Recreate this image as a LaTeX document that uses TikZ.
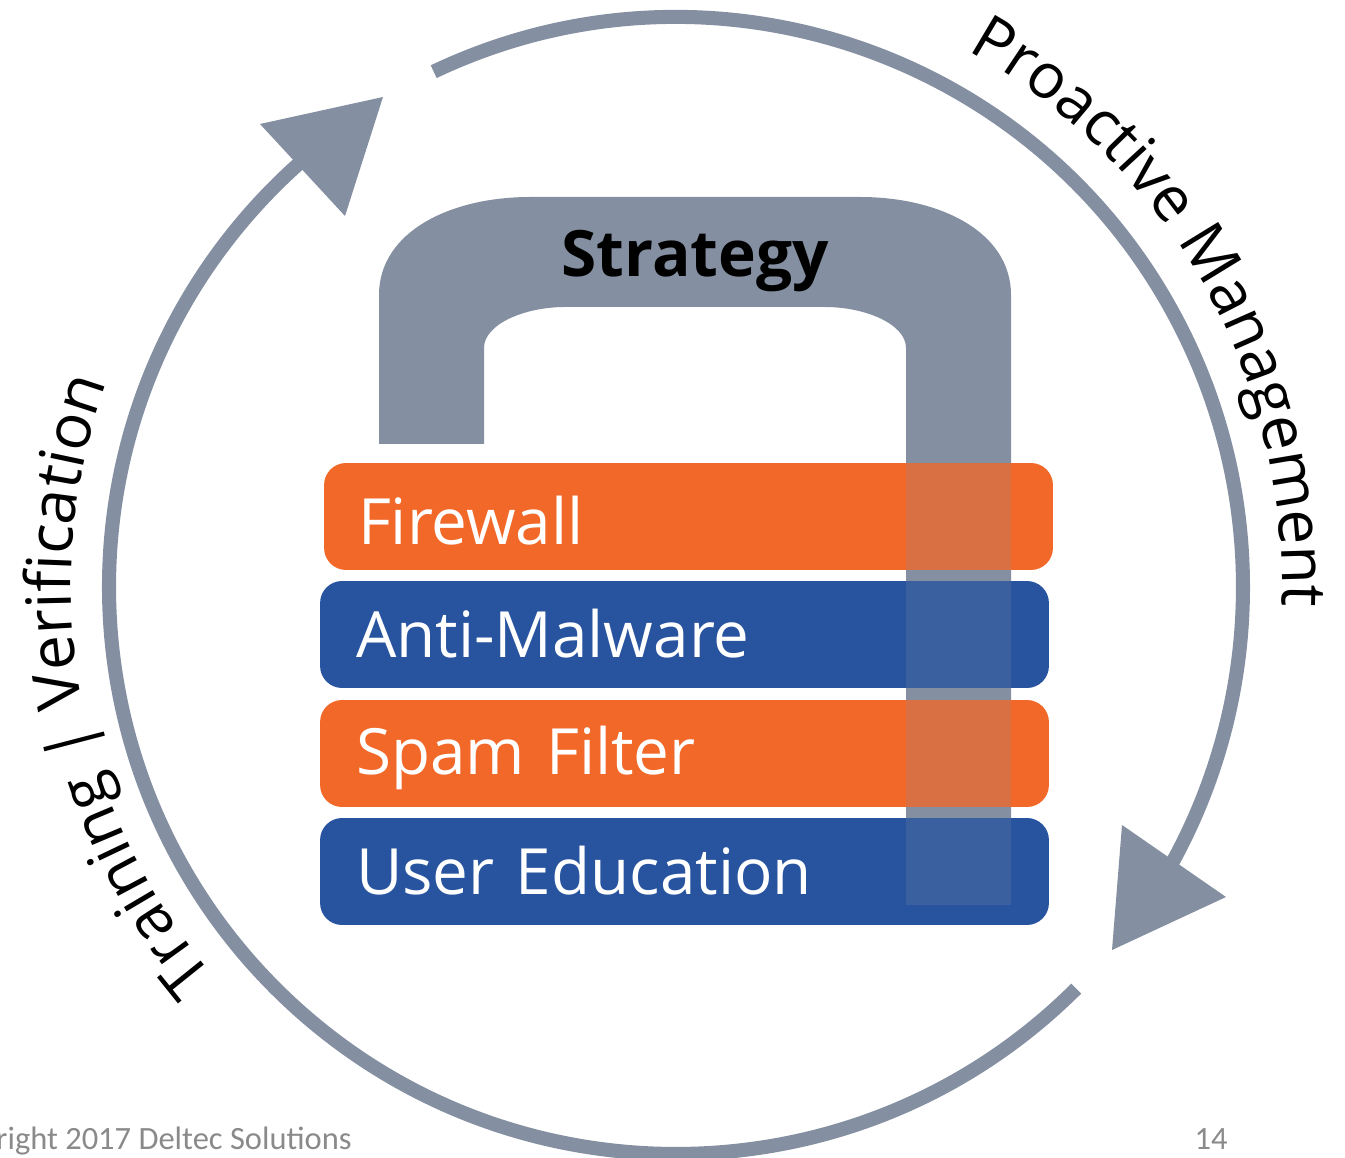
\documentclass[tikz,border=0pt]{standalone}
\usepackage{fontspec}
\setmainfont{Open Sans}
\newfontfamily\footfont{Carlito}
\usetikzlibrary{positioning,calc,decorations.text}
\definecolor{slate}{HTML}{848FA1}
\definecolor{lockorange}{HTML}{F26829}
\definecolor{lockblue}{HTML}{27539F}
\definecolor{footgray}{HTML}{8A8A8A}

\begin{document}
\begin{tikzpicture}[
    x=0.02cm, y=0.02cm,
    layerbox/.style={rectangle, rounded corners=0.44cm, minimum width=14.58cm, minimum height=2.14cm, inner xsep=0.72cm, inner ysep=0pt, text width=13.14cm, align=left, text=white, text height=1.1cm, text depth=0.16cm, font=\fontsize{36.3}{44}\selectfont},
    ring/.style={draw=slate, line width=8pt},
    curvedlabel/.style={decorate, decoration={text along path, text align=left, text format delimiters={[}{]}, text={[\fontsize{35.5}{40}\selectfont]#1}}},
    footnote/.style={text=footgray, inner sep=0pt, font=\footfont\fontsize{18.5}{22}\selectfont}
]
    \useasboundingbox (0,0) rectangle (1345,1157);
    \coordinate (hub) at (676,570);

    % Ring
    \draw[ring] (hub) ++(115.3:567 and 570) arc (115.3:-29:567 and 570);
    \draw[ring] (hub) ++(-45.1:567) arc (-45.1:-228.6:567);
    \fill[slate] (1122,332) -- (1226,260) -- (1112,207) -- cycle;
    \fill[slate] (260,1033) -- (383,1060) -- (345,941) -- cycle;

    % Shackle
    \fill[slate] (379,713) -- (379,862) .. controls (379,925) and (450,960) .. (530,960) -- (860,960)
        .. controls (940,960) and (1011,925) .. (1011,862) -- (1011,252) -- (906,252) -- (906,809)
        .. controls (906,833) and (865,850) .. (825,850) -- (565,850)
        .. controls (525,850) and (484,833) .. (484,809) -- (484,713) -- cycle;

    % Layers
    \node[layerbox, fill=lockorange, text height=1.3cm, text depth=0.18cm, inner xsep=0.68cm, text width=13.22cm] (firewall) at (688.5,640.5) {Firewall};
    \node[layerbox, fill=lockblue] (malware) at (684.5,522.5) {Anti-Malware};
    \node[layerbox, fill=lockorange, text depth=0.24cm] (spam) at (684.5,403.5) {Spam Filter};
    \node[layerbox, fill=lockblue] (education) at (684.5,285.5) {User Education};

    \fill[slate, opacity=0.22] (906,252) rectangle (1011,713);

    \node[font=\fontsize{36.4}{44}\selectfont\bfseries] (strategy) at (695,896) {Strategy};

    % Curved labels
    \path[curvedlabel={Proactive Management}] (672,573) ++(61:610) arc (61:-15:610);
    \path[curvedlabel={Training | Verification}] (671,570) ++(220.4:600) arc (220.4:150:600);

    % Footer
    \node[footnote, anchor=base east] (rights) at (352,8) {right 2017 Deltec Solutions};
    \node[footnote, anchor=base east] (pagenum) at (1228,8) {14};
\end{tikzpicture}
\end{document}
